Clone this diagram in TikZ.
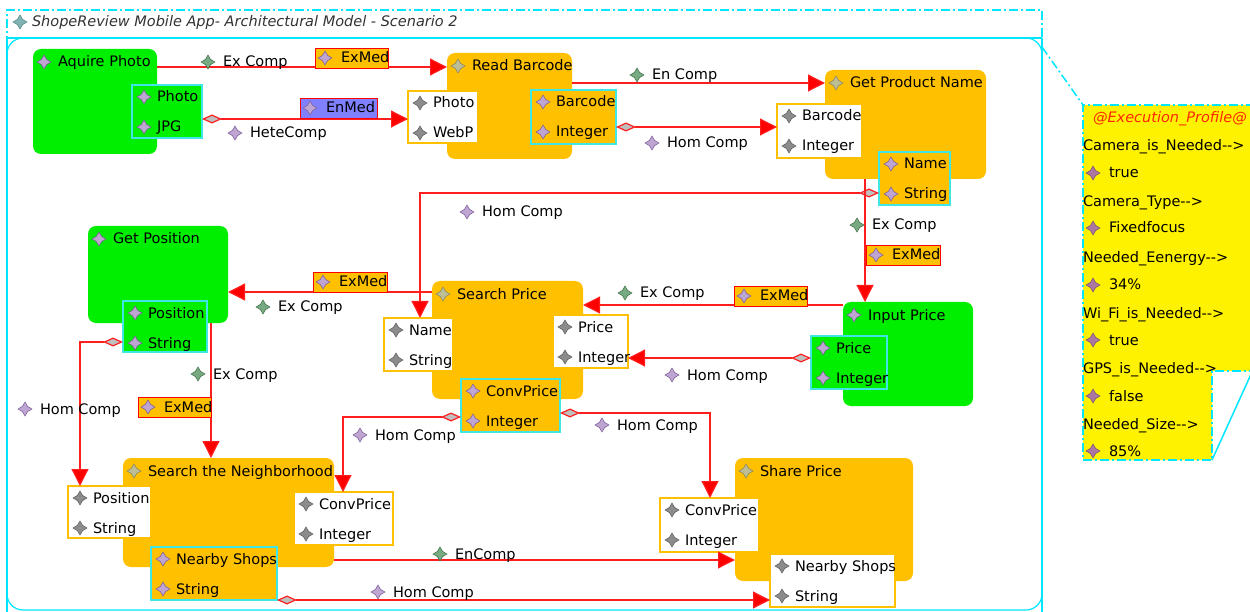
\documentclass[tikz,border=0pt]{standalone}
\usepackage{fontspec}
\setmainfont{DejaVu Sans}
\usetikzlibrary{arrows.meta,calc}
\definecolor{cg}{RGB}{0,238,0}
\definecolor{co}{RGB}{255,192,0}
\definecolor{ccy}{RGB}{64,230,230}
\definecolor{cfr}{RGB}{0,230,255}
\definecolor{cmed}{RGB}{128,128,255}
\definecolor{cline}{RGB}{255,30,30}
\definecolor{cnote}{RGB}{255,40,0}
\tikzset{
  txt/.style={anchor=west, inner sep=0pt, outer sep=0pt, text height=11pt, text depth=1pt, font=\fontsize{14.5}{16}\selectfont},
  pics/ico/.style={code={\filldraw[#1, line width=0.5pt] (0,-7)--(2.6,-2.6)--(7,0)--(2.6,2.6)--(0,7)--(-2.6,2.6)--(-7,0)--(-2.6,-2.6)--cycle;}},
  ipur/.style={fill={rgb,255:red,190;green,165;blue,210}, draw={rgb,255:red,120;green,90;blue,150}},
  igray/.style={fill={rgb,255:red,140;green,140;blue,140}, draw={rgb,255:red,90;green,90;blue,90}},
  igreen/.style={fill={rgb,255:red,120;green,170;blue,130}, draw={rgb,255:red,60;green,110;blue,70}},
  iolive/.style={fill={rgb,255:red,190;green,190;blue,150}, draw={rgb,255:red,130;green,130;blue,100}},
  imauve/.style={fill={rgb,255:red,170;green,120;blue,160}, draw={rgb,255:red,120;green,80;blue,110}},
  ititle/.style={fill={rgb,255:red,130;green,180;blue,180}, draw={rgb,255:red,80;green,130;blue,130}},
  gbox/.style={anchor=north west, fill=cg, rounded corners=8pt, inner sep=0pt, outer sep=0pt},
  obox/.style={anchor=north west, fill=co, rounded corners=8pt, inner sep=0pt, outer sep=0pt},
  gport/.style={anchor=north west, fill=cg, draw=ccy, line width=1.2pt, inner sep=0pt, outer sep=0pt},
  oport/.style={anchor=north west, fill=co, draw=ccy, line width=1.2pt, inner sep=0pt, outer sep=0pt},
  wport/.style={anchor=north west, fill=white, draw=co, line width=1.2pt, inner sep=0pt, outer sep=0pt},
  med/.style={anchor=north west, draw=red, line width=1.2pt, minimum height=20pt, inner sep=0pt},
  conn/.style={draw=cline, line width=1.2pt, -{Triangle[length=17pt,width=17pt,fill=red]}},
  dconn/.style={draw=cline, line width=1.2pt, {Diamond[length=20pt,width=9pt,fill=black!25]}-{Triangle[length=17pt,width=17pt,fill=red]}},
  frame/.style={draw=cfr, line width=1.5pt, dash pattern=on 9pt off 3pt on 2pt off 3pt},
}
\newcommand\mkcomp[8]{%
  \node[#2, minimum width=#5pt, minimum height=#6pt] (#1) at (#3,#4) {};
  \pic at ($(#1.north west)+(11,13)$) {ico=#8};
  \node[txt] (#1t) at ($(#1.north west)+(25,13)$) {#7};}
\newcommand\mkport[9]{%
  \node[#2, minimum width=#5pt, minimum height=#6pt] (#1) at (#3,#4) {};
  \pic at ($(#1.north west)+(12,12)$) {ico=#9};
  \pic at ($(#1.north west)+(12,42)$) {ico=#9};
  \node[txt] (#1a) at ($(#1.north west)+(25,12)$) {#7};
  \node[txt] (#1b) at ($(#1.north west)+(25,42)$) {#8};}
\newcommand\mklab[5]{%
  \pic at (#2,#3) {ico=#4};
  \node[txt] (#1) at ($(#2,#3)+(15,0)$) {#5};}
\newcommand\mkmed[6]{%
  \node[med, fill=#5, minimum width=#4pt] (#1) at (#2,#3) {};
  \pic at ($(#1.north west)+(10,10)$) {ico=ipur};
  \node[txt] (#1t) at ($(#1.north west)+(26,10)$) {#6};}
\newcommand\nline[3]{\node[txt] (#1) at (1083,#2) {#3-{}-{}>};}
\newcommand\nval[3]{\pic at (1093,#2) {ico=imauve}; \node[txt] (#1) at (1109,#2) {#3};}
\begin{document}
\begin{tikzpicture}[x=1pt,y=-1pt]
\useasboundingbox (0,0) rectangle (1250,612);
\clip (0,0) rectangle (1250,612);
% frame
\draw[frame] (7,640) -- (7,10) -- (1042,10) -- (1042,640);
\draw[cfr, line width=1.2pt] (7,38) -- (1042,38);
\draw[cfr, line width=1.2pt, rounded corners=16pt] (7,38) rectangle (1042,610);
\draw[cfr, line width=1.2pt] (7,38) -- (7,612) (1042,38) -- (1042,612);
\pic at (20,22) {ico=ititle};
\node[txt, font=\itshape\fontsize{14.5}{16}\selectfont, text=black!80] (title) at (32,22) {ShopeReview Mobile App- Architectural Model - Scenario 2};
% note
\coordinate (nTL) at (1083,105);
\coordinate (nBR) at (1212,460);
\fill[yellow] (nTL) -- (1275,105) -- (1275,371) -- (1212,371) -- (nBR) -- (1083,460) -- cycle;
\draw[frame] (1275,371) -- (1212,371) -- (nBR) -- (1083,460) -- (nTL) -- (1275,105);
\coordinate (fC) at (1042,47);
\draw[frame] (fC) -- (nTL);
\coordinate (nOut) at (1252,372);
\draw[cfr, line width=1.5pt] (nBR) -- (nOut);
\node[txt, font=\itshape\fontsize{14.5}{16}\selectfont, text=cnote] (nT) at (1093,118) {@Execution\_Profile@};
\nline{n1}{146}{Camera\_is\_Needed}
\nval{v1}{173}{true}
\nline{n2}{202}{Camera\_Type}
\nval{v2}{228}{Fixedfocus}
\nline{n3}{258}{Needed\_Eenergy}
\nval{v3}{285}{34\%}
\nline{n4}{313}{Wi\_Fi\_is\_Needed}
\nval{v4}{340}{true}
\nline{n5}{368}{GPS\_is\_Needed}
\nval{v5}{396}{false}
\nline{n6}{424}{Needed\_Size}
\nval{v6}{451}{85\%}
% components
\mkcomp{ap}{gbox}{33}{49}{124}{105}{Aquire Photo}{ipur}
\mkport{app}{gport}{132}{85}{70}{53}{Photo}{JPG}{ipur}
\mkcomp{rb}{obox}{447}{53}{125}{106}{Read Barcode}{iolive}
\mkport{rbi}{wport}{408}{91}{70}{52}{Photo}{WebP}{igray}
\mkport{rbo}{oport}{531}{90}{85}{54}{Barcode}{Integer}{ipur}
\mkcomp{gp}{obox}{825}{70}{161}{109}{Get Product Name}{iolive}
\mkport{gpi}{wport}{777}{104}{85}{54}{Barcode}{Integer}{igray}
\mkport{gpo}{oport}{879}{152}{71}{53}{Name}{String}{ipur}
\mkcomp{gpos}{gbox}{88}{226}{140}{97}{Get Position}{ipur}
\mkport{gpop}{gport}{123}{301}{84}{51}{Position}{String}{ipur}
\mkcomp{sp}{obox}{432}{281}{151}{118}{Search Price}{iolive}
\mkport{spl}{wport}{384}{318}{69}{53}{Name}{String}{igray}
\mkport{spr}{wport}{553}{315}{75}{53}{Price}{Integer}{igray}
\mkport{spo}{oport}{461}{379}{99}{53}{ConvPrice}{Integer}{ipur}
\mkcomp{ip}{gbox}{843}{302}{130}{104}{Input Price}{ipur}
\mkport{ipo}{gport}{811}{336}{76}{53}{Price}{Integer}{ipur}
\mkcomp{sn}{obox}{123}{458}{211}{109}{Search the Neighborhood}{iolive}
\mkport{snl}{wport}{68}{486}{83}{52}{Position}{String}{igray}
\mkport{snr}{wport}{294}{492}{99}{53}{ConvPrice}{Integer}{igray}
\mkport{sno}{oport}{151}{547}{126}{53}{Nearby Shops}{String}{ipur}
\mkcomp{shp}{obox}{735}{458}{178}{123}{Share Price}{iolive}
\mkport{shc}{wport}{660}{498}{99}{54}{ConvPrice}{Integer}{igray}
\mkport{shn}{wport}{770}{554}{125}{53}{Nearby Shops}{String}{igray}
% connectors
\draw[conn] ($(ap.north east)+(0,18)$) -- ($(rb.north west)+(0,14)$);
\draw[dconn] ($(app.north east)+(0,34)$) -- ($(rbi.north west)+(0,28)$);
\draw[conn] ($(rb.north east)+(0,30)$) -- ($(gp.north west)+(0,13)$);
\draw[dconn] ($(rbo.north east)+(0,37)$) -- ($(gpi.north west)+(0,23)$);
\draw[dconn] ($(gpo.north west)+(0,41)$) -| ($(spl.north west)+(36,0)$);
\draw[conn] ($(gp.south west)+(40,0)$) -- ($(ip.north west)+(22,0)$);
\draw[conn] ($(ip.north west)+(0,3)$) -- ($(sp.north east)+(0,24)$);
\draw[dconn] ($(ipo.north west)+(0,22)$) -- ($(spr.north east)+(0,43)$);
\draw[conn] ($(sp.north west)+(0,11)$) -- ($(gpos.north east)+(0,66)$);
\draw[conn] ($(gpos.south west)+(123,0)$) -- ($(sn.north west)+(88,0)$);
\draw[dconn] ($(gpop.north west)+(0,41)$) -| ($(snl.north west)+(12,0)$);
\draw[dconn] ($(spo.north west)+(0,38)$) -| ($(snr.north west)+(49,0)$);
\draw[dconn] ($(spo.north east)+(0,34)$) -| ($(shc.north west)+(50,0)$);
\draw[conn] ($(sn.north east)+(0,102)$) -- ($(shp.north west)+(0,102)$);
\draw[dconn] (sno.south east) -- (sno.south east -| shn.west);
% mediators
\mkmed{ma}{315}{48}{73}{co}{ExMed}
\mkmed{mb}{300}{98}{77}{cmed}{EnMed}
\mkmed{mf}{866}{245}{74}{co}{ExMed}
\mkmed{mg}{734}{286}{73}{co}{ExMed}
\mkmed{mi}{313}{272}{74}{co}{ExMed}
\mkmed{mj}{138}{397}{73}{co}{ExMed}
% labels
\mklab{la}{208}{62}{igreen}{Ex Comp}
\mklab{lb}{235}{133}{ipur}{HeteComp}
\mklab{lc}{637}{75}{igreen}{En Comp}
\mklab{ld}{652}{143}{ipur}{Hom Comp}
\mklab{le}{467}{212}{ipur}{Hom Comp}
\mklab{lf}{857}{225}{igreen}{Ex Comp}
\mklab{lg}{625}{293}{igreen}{Ex Comp}
\mklab{lh}{672}{375}{ipur}{Hom Comp}
\mklab{li}{263}{307}{igreen}{Ex Comp}
\mklab{lj}{198}{374}{igreen}{Ex Comp}
\mklab{lk}{25}{409}{ipur}{Hom Comp}
\mklab{ll}{360}{435}{ipur}{Hom Comp}
\mklab{lm}{602}{425}{ipur}{Hom Comp}
\mklab{ln}{440}{554}{igreen}{EnComp}
\mklab{lo}{378}{592}{ipur}{Hom Comp}
\end{tikzpicture}
\end{document}
